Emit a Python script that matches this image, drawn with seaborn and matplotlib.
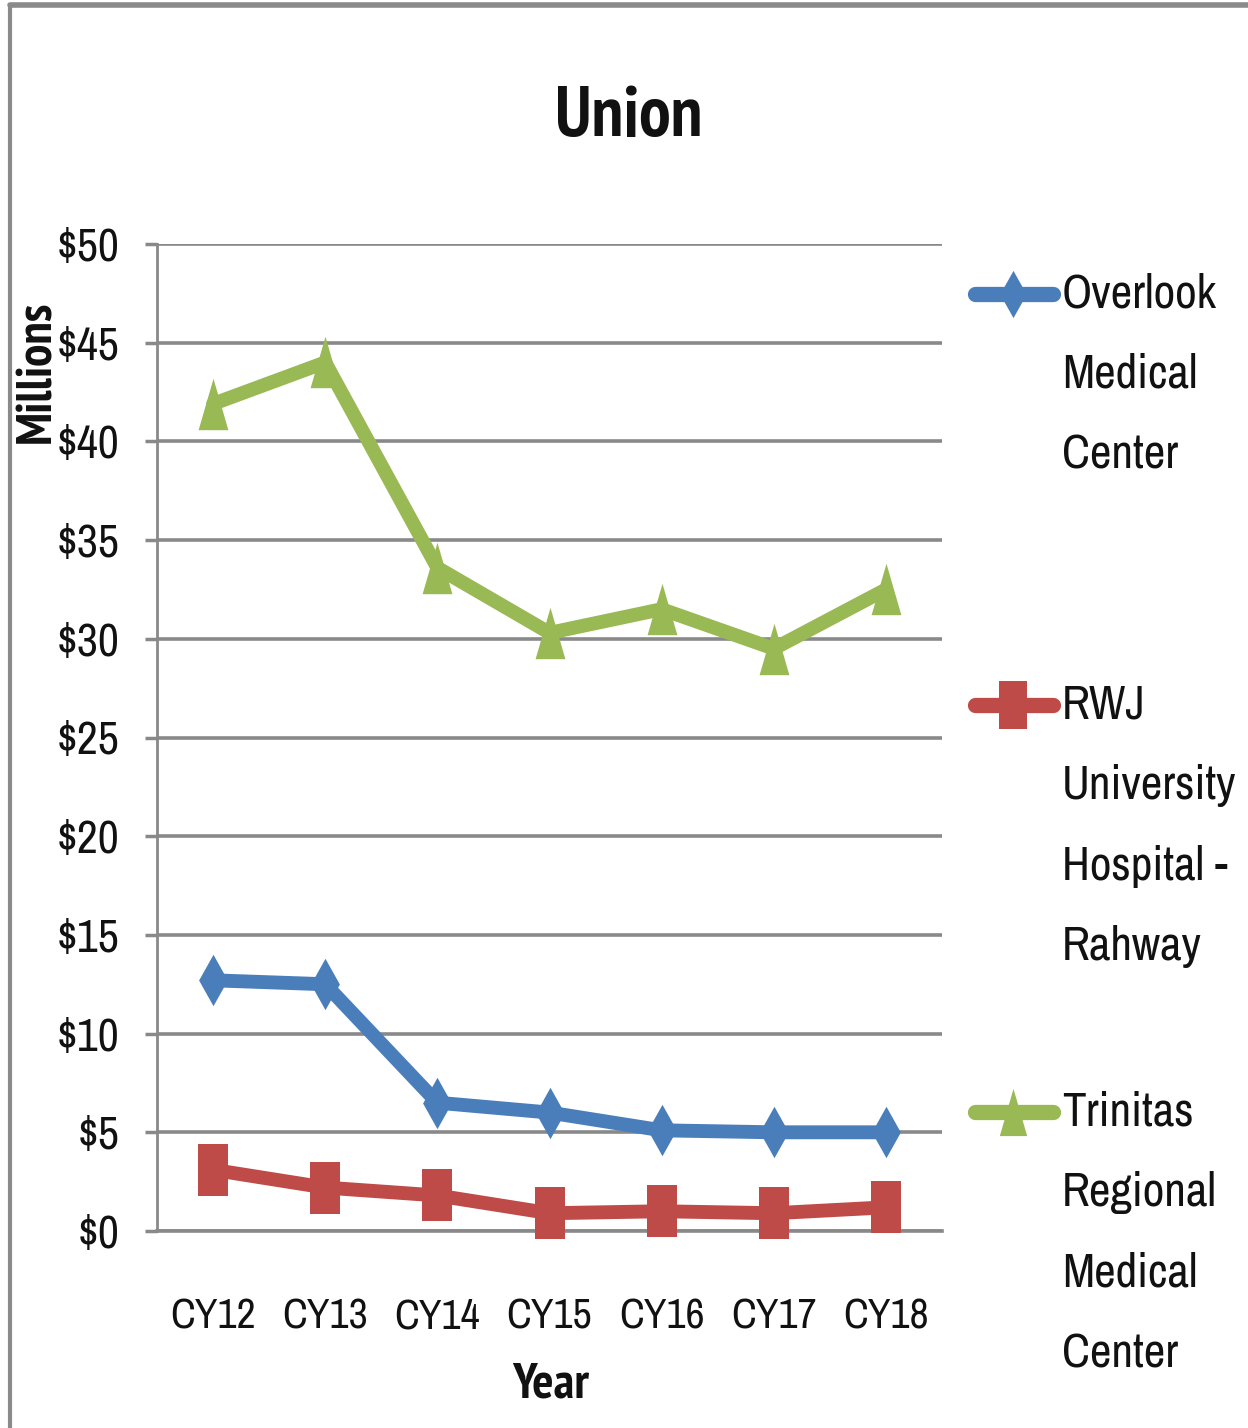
import os
import numpy as np
import pandas as pd
import seaborn as sns
import matplotlib
matplotlib.use('Agg')
import matplotlib.pyplot as plt
from matplotlib.path import Path
from matplotlib.lines import Line2D
from matplotlib import font_manager
from matplotlib.font_manager import FontProperties

# datos (millones de dólares)
years = ['CY12', 'CY13', 'CY14', 'CY15', 'CY16', 'CY17', 'CY18']
overlook = [12.7, 12.5, 6.5, 6.0, 5.1, 5.0, 5.0]
rwj = [3.1, 2.2, 1.8, 0.9, 1.0, 0.9, 1.2]
trinitas = [41.9, 44.0, 33.6, 30.3, 31.5, 29.5, 32.5]

series_names = ['Overlook\nMedical\nCenter',
                'RWJ\nUniversity\nHospital -\nRahway',
                'Trinitas\nRegional\nMedical\nCenter']
ytick_values = [0, 5, 10, 15, 20, 25, 30, 35, 40, 45, 50]
ytick_labels = ['$0', '$5', '$10', '$15', '$20', '$25', '$30', '$35', '$40', '$45', '$50']

sns.set_theme(style='white')


# buscar una fuente estrecha (parecida a Calibri comprimida)
def narrow_face(bold):
    best = None
    for f in font_manager.fontManager.ttflist:
        nm = f.name.lower()
        fn = os.path.basename(f.fname).lower()
        st = f.stretch
        cond_st = (st in ('condensed', 'semi-condensed', 'extra-condensed', 'ultra-condensed')
                   if isinstance(st, str) else st < 500)
        is_narrow = cond_st or 'narrow' in nm or 'condensed' in nm or 'condensed' in fn or 'narrow' in fn
        if not is_narrow or f.style != 'normal':
            continue
        w = f.weight if isinstance(f.weight, int) else font_manager.weight_dict.get(f.weight, 400)
        if bold and w < 600:
            continue
        if not bold and w != 400:
            continue
        rank = 5
        if 'narrow' in nm or 'narrow' in fn:
            rank = 0
        elif 'roboto' in nm:
            rank = 1
        elif 'noto' in nm:
            rank = 2
        elif 'dejavu' in nm:
            rank = 3
        if any(k in fn for k in ('extra', 'semi', 'ultra')):
            rank += 10
        if bold and w > 750:
            rank += 0.5
        if best is None or rank < best[0]:
            best = (rank, f.fname)
    return best[1] if best else None


reg_path = narrow_face(False)
bold_path = narrow_face(True)


def fp(size, bold=False):
    path = bold_path if bold else reg_path
    if path:
        return FontProperties(fname=path, size=size)
    return FontProperties(family='Liberation Sans', size=size * 0.85,
                          weight='bold' if bold else 'normal')


W, H = 1248, 1428
fig = plt.figure(figsize=(W / 100, H / 100), dpi=100)
fig.patch.set_facecolor('white')

# marcadores altos (la imagen original está estirada en vertical)
diamond = Path([(0, 1), (0.56, 0), (0, -1), (-0.56, 0), (0, 1)],
               [Path.MOVETO, Path.LINETO, Path.LINETO, Path.LINETO, Path.CLOSEPOLY])
square = Path([(-0.6, -1), (0.6, -1), (0.6, 1), (-0.6, 1), (-0.6, -1)],
              [Path.MOVETO, Path.LINETO, Path.LINETO, Path.LINETO, Path.CLOSEPOLY])
triangle = Path([(-0.58, -1), (0.58, -1), (0, 1), (-0.58, -1)],
                [Path.MOVETO, Path.LINETO, Path.LINETO, Path.CLOSEPOLY])

colors = ['#4A7EBB', '#BE4B48', '#98B954']
markers = [diamond, square, triangle]
values = [overlook, rwj, trinitas]

ax = fig.add_axes([157 / W, 1 - 1231 / H, (942 - 157) / W, (1231 - 244) / H])

for vals, col, mk in zip(values, colors, markers):
    df = pd.DataFrame({'year': years, 'value': vals})
    sns.lineplot(data=df, x='year', y='value', ax=ax, color=col, linewidth=10,
                 marker=mk, markersize=37, markeredgewidth=0, sort=False,
                 clip_on=False, zorder=3, solid_joinstyle='round',
                 solid_capstyle='round')

grey = '#898989'
ink = '#111111'
ax.set_xlim(-0.5, 6.5)
ax.set_ylim(0, 50)
ax.set_yticks(ytick_values)
ax.set_yticklabels(ytick_labels)
ax.set_xticks(range(len(years)))
ax.set_xticklabels(years)
for lbl in ax.get_yticklabels():
    lbl.set_fontproperties(fp(33))
for lbl in ax.get_xticklabels():
    lbl.set_fontproperties(fp(30))
ax.set_xticks(np.arange(-0.5, 7, 1), minor=True)
ax.tick_params(axis='x', which='major', length=0, pad=48, labelcolor=ink)
ax.tick_params(axis='x', which='minor', length=12, width=2, color=grey, direction='out')
ax.tick_params(axis='y', which='major', length=9, width=2.5, color=grey, pad=18,
               direction='out', labelcolor=ink, left=True)
ax.yaxis.grid(True, color=grey, linewidth=2.6)
ax.set_axisbelow(True)
for s in ['top', 'right']:
    ax.spines[s].set_visible(False)
ax.spines['left'].set_color(grey)
ax.spines['left'].set_linewidth(2)
ax.spines['bottom'].set_color(grey)
ax.spines['bottom'].set_linewidth(2.6)

ax.set_xlabel('Year', fontproperties=fp(36, True), color=ink)
ax.xaxis.set_label_coords((551 - 157) / 785, -(1362 - 1231) / 987)
ax.set_ylabel('Millions', fontproperties=fp(36, True), color=ink)
ax.yaxis.set_label_coords((60 - 157) / 785, (1231 - 372) / 987)

fig.text(629 / W, 1 - 118 / H, 'Union', ha='center', va='center',
         fontproperties=fp(51, True), color=ink)

# leyenda a la derecha
legend_y = [294, 705, 1112]
for name, col, mk, yy in zip(series_names, colors, markers, legend_y):
    fy = 1 - yy / H
    fig.add_artist(Line2D([975 / W, 1053 / W], [fy, fy], transform=fig.transFigure,
                          color=col, linewidth=11, solid_capstyle='round'))
    fig.add_artist(Line2D([1013 / W], [fy], transform=fig.transFigure, color=col,
                          marker=mk, markersize=34, markeredgewidth=0, linestyle='none'))
    fig.text(1062 / W, 1 - (yy - 22) / H, name, ha='left', va='top',
             fontproperties=fp(34), linespacing=2.08, color=ink)

# marco del gráfico
fig.add_artist(Line2D([10 / W, 10 / W], [0, 1 - 5 / H], transform=fig.transFigure,
                      color='#8a8a8a', linewidth=3))
fig.add_artist(Line2D([10 / W, 1], [1 - 5 / H, 1 - 5 / H], transform=fig.transFigure,
                      color='#8a8a8a', linewidth=4))

fig.savefig('out.png', dpi=100)
